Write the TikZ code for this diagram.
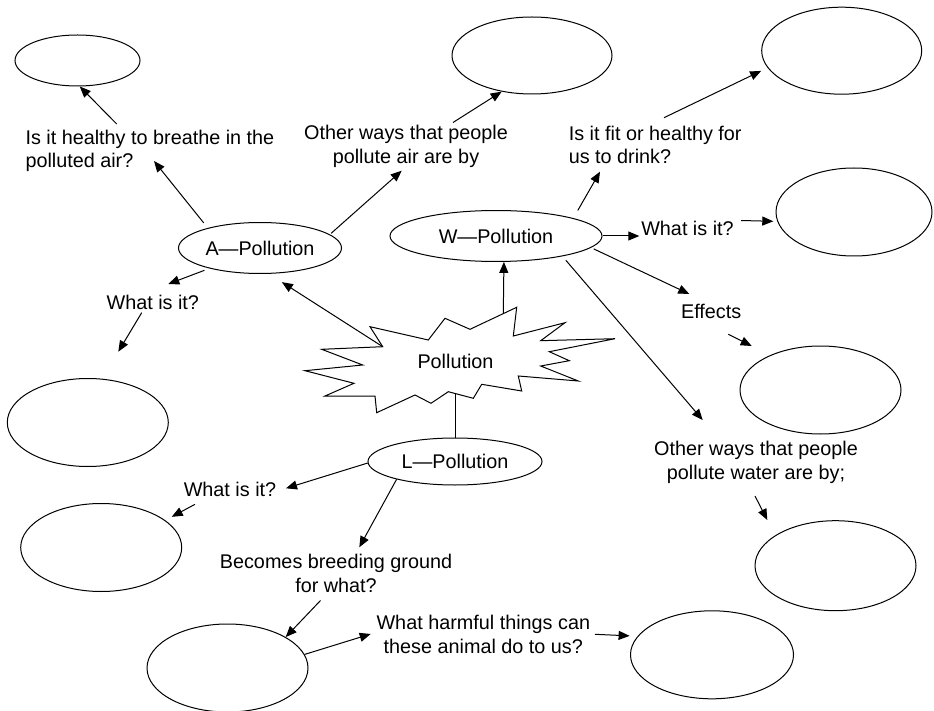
\documentclass[tikz,border=0pt]{standalone}
\usepackage{fontspec}
\setmainfont{Liberation Sans}
\usetikzlibrary{arrows.meta,shapes.geometric}
\tikzset{
  qtext/.style = {inner sep=0pt, align=center,
    font=\fontsize{19.8}{23.5}\selectfont},% question texts
  ell_hub/.style = {qtext, ellipse, draw, line width=1pt},% the three topics
  ell_blank/.style = {ellipse, draw, line width=1pt, inner sep=0pt,
    minimum width=161pt, minimum height=88pt}% empty answer bubbles
}

\begin{document}
\begin{tikzpicture}[->,>={Triangle[length=11pt,width=9pt]}, x=1pt, y=-1pt,
  line width=1pt]
\useasboundingbox (0,0) rectangle (934,711);
% starburst in the middle
\draw[-] (370,326.7) -- (428.3,340) -- (445,318.3) -- (470,329.3)
  -- (516.7,307.3) -- (513.3,336) -- (565,322.7) -- (540.7,340.7)
  -- (615,338.7) -- (549.3,351.7) -- (569.3,360.7) -- (540.7,366)
  -- (578.3,381) -- (518.3,376) -- (521.7,391) -- (481.7,384.3)
  -- (473.3,398.3) -- (448.3,391.7) -- (431,403.3) -- (415,395)
  -- (376.7,412.7) -- (375,396) -- (325,396) -- (354,383.3)
  -- (305,370.7) -- (362.7,365) -- (321.7,349.3) -- (382.7,346.7) -- cycle;
\node[qtext] (poll) at (455.5,361) {Pollution};
\coordinate (s_left) at (382.7,346.7);
\coordinate (s_top) at (503.3,313.4);
\coordinate (s_bot) at (455,393.5);

% topics
\node[ell_hub, minimum width=163pt, minimum height=51pt] (apol) at (260,248) {A—Pollution};
\node[ell_hub, minimum width=212pt, minimum height=51pt] (wpol) at (496,236) {W—Pollution};
\node[ell_hub, minimum width=174pt, minimum height=47pt] (lpol) at (455,461.5) {L—Pollution};

% blank bubbles
\node[ell_blank, minimum width=125pt, minimum height=51pt] (e1) at (77.5,60.5) {};
\node[ell_blank, minimum width=160pt, minimum height=77pt] (e2) at (532,55.5) {};
\node[ell_blank, minimum width=160pt, minimum height=87pt] (e3) at (841.7,50.7) {};
\node[ell_blank, minimum width=156pt] (e4) at (854,212) {};
\node[ell_blank] (e5) at (820.5,390) {};
\node[ell_blank, minimum height=90pt] (e6) at (835.5,565.7) {};
\node[ell_blank] (e7) at (87.8,422.5) {};
\node[ell_blank] (e8) at (101.2,547.5) {};
\node[ell_blank] (e9) at (227.5,668) {};
\node[ell_blank, minimum width=163pt] (e10) at (712,654.8) {};

% questions
\node[qtext, align=left, anchor=west] (q1) at (25,151) {Is it healthy to breathe in the\\polluted air?};
\node[qtext] (q2) at (406,146.5) {Other ways that people\\pollute air are by};
\node[qtext] (q3) at (152.8,302) {What is it?};
\node[qtext] (q4) at (230,489) {What is it?};
\node[qtext] (q5) at (336,573.5) {Becomes breeding ground\\for what?};
\node[qtext] (q6) at (483.3,634.5) {What harmful things can\\these animal do to us?};
\node[qtext, align=left, anchor=west] (q7) at (568.3,144.7) {Is it fit or healthy for\\us to drink?};
\node[qtext] (q8) at (687.5,228.5) {What is it?};
\node[qtext] (q9) at (711.2,311) {Effects};
\node[qtext] (q10) at (756,462.5) {Other ways that people\\pollute water are by;};

% loose ends of the links next to the questions
\coordinate (q1_in) at (154,161);      \coordinate (q1_out) at (116.7,124);
\coordinate (q2_in) at (401.7,170.7);  \coordinate (q2_out) at (453,122.5);
\coordinate (q3_in) at (168.3,284);    \coordinate (q3_out) at (141.7,312.7);
\coordinate (q3_end) at (118.3,351.7);
\coordinate (q4_in) at (286,488.3);    \coordinate (q4_out) at (195,504.3);
\coordinate (q5_in) at (359.3,547.3);  \coordinate (q5_out) at (320.5,600.5);
\coordinate (q6_in) at (370.7,634);    \coordinate (q6_out) at (595,634.3);
\coordinate (q7_in) at (600,171.7);    \coordinate (q7_out) at (664,117.7);
\coordinate (q8_in) at (639.3,236);    \coordinate (q8_out) at (741,220.5);
\coordinate (q9_in) at (689.3,294);    \coordinate (q9_out) at (728.3,334.3);
\coordinate (q9_end) at (751.7,346);
\coordinate (q10_in) at (702.7,420);   \coordinate (q10_out) at (755,496);
\coordinate (q10_end) at (767.3,520);

% links
\draw[shorten >=15.4pt] (s_left) -- (apol.-71.1);
\draw (s_top) -- (wpol.-73.9);
\draw[-] (s_bot) -- (lpol);

\draw[shorten <=6.5pt] (apol.159.6) -- (q1_in);
\draw (q1_out) -- (e1.-85);
\draw[shorten <=1.6pt] (apol.11.2) -- (q2_in);
\draw (q2_out) -- (e2.-130.1);
\draw[shorten <=5.3pt] (apol.-158.1) -- (q3_in);
\draw (q3_out) -- (q3_end);

\draw[shorten <=8.8pt] (wpol.13.1) -- (q7_in);
\draw[shorten >=7.1pt] (q7_out) -- (e3.-167.1);
\draw (wpol.east) -- (q8_in);
\draw[shorten >=4pt] (q8_out) -- (e4.-173.5);
\draw[shorten <=2.8pt] (wpol.-7.4) -- (q9_in);
\draw (q9_out) -- (q9_end);
\draw[shorten <=5.2pt] (wpol.-17) -- (q10_in);
\draw (q10_out) -- (q10_end);

\draw (lpol.181) -- (q4_in);
\draw[shorten >=7.3pt] (q4_out) -- (e8.23.6);
\draw (lpol.-163) -- (q5_in);
\draw (q5_out) -- (e9.28.7);
\draw (e9.10.7) -- (q6_in);
\draw[shorten >=7.9pt] (q6_out) -- (e10.166.1);
\end{tikzpicture}
\end{document}
